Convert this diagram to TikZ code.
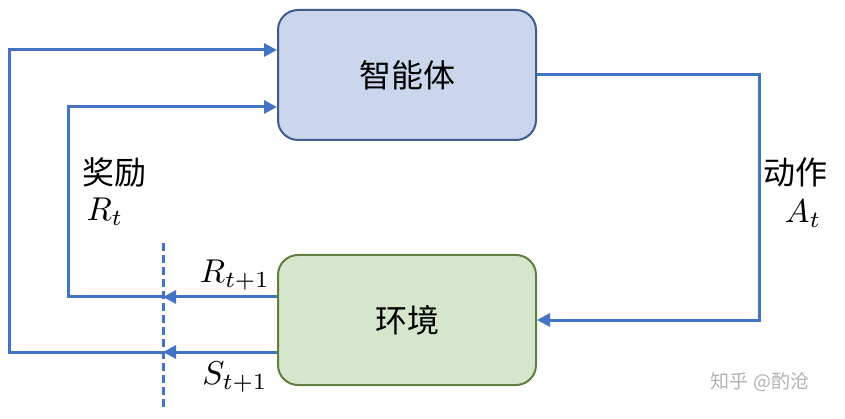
\documentclass[tikz,border=0pt]{standalone}
\usepackage{fontspec}
\newfontfamily\cjk{Noto Sans CJK SC}
\usetikzlibrary{arrows.meta}
\definecolor{lineblue}{RGB}{68,114,196}
\definecolor{agentfill}{RGB}{201,214,236}
\definecolor{agentdraw}{RGB}{62,92,140}
\definecolor{envfill}{RGB}{213,230,204}
\definecolor{envdraw}{RGB}{96,126,64}
\begin{document}
\begin{tikzpicture}[x=1pt,y=-1pt,
  box/.style={rounded corners=20pt, line width=2pt, minimum width=258pt, minimum height=130pt, inner sep=0pt},
  conn/.style={lineblue, line width=3pt, -{Triangle[length=13pt,width=13pt]}},
  cn/.style={font=\cjk\fontsize{32}{36}\selectfont},
  mth/.style={scale=3.3, transform shape, inner sep=0pt}]
\useasboundingbox (0,0) rectangle (845,419);
\node[box, fill=agentfill, draw=agentdraw, cn] (agent) at (407,75) {智能体};
\node[box, fill=envfill, draw=envdraw, cn] (env) at (407,320) {环境};
\coordinate (dtop) at (163,243);
\coordinate (dbot) at (163,410);
\draw[lineblue, line width=3pt, dash pattern=on 8pt off 4pt] (dtop) -- (dbot);
\coordinate (r1) at (163,297);
\coordinate (s1) at (163,352);
\draw[conn] (env.west |- r1) -- (r1);
\draw[conn] (env.west |- s1) -- (s1);
\coordinate (ri) at (68,297);
\coordinate (so) at (9,352);
\draw[conn] (r1) -- (ri) -- (68,107) -- (agent.west |- 0,107);
\draw[conn] (s1) -- (so) -- (9,50) -- (agent.west |- 0,50);
\draw[conn] (agent.east |- 0,75) -- (759,75) -- (759,320) -- (env.east);
\node[cn] (lr) at (114,172) {奖励};
\node[mth] (lrt) at (105,212) {$R_t$};
\node[cn] (la) at (795,172) {动作};
\node[mth] (lat) at (803,214) {$A_t$};
\node[mth] (lr1) at (235,275) {$R_{t+1}$};
\node[mth] (ls1) at (235,377) {$S_{t+1}$};
\node[font=\cjk\fontsize{19}{22}\selectfont, text=black!30] (wm) at (760,382) {知乎 @酌沧};
\end{tikzpicture}
\end{document}
